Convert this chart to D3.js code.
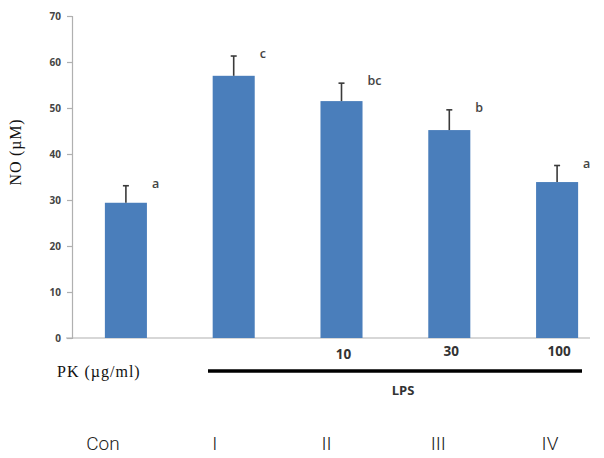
<!DOCTYPE html>
<html>
<head>
<meta charset="utf-8">
<script src="https://cdn.jsdelivr.net/npm/d3@7"></script>
<style>
  html, body { margin: 0; padding: 0; background: #fff; }
  svg { display: block; }
</style>
</head>
<body>
<svg id="chart" width="604" height="458"></svg>
<script>
// NO production per treatment group (mean ± SD, µM)
const groups = ["Con", "I", "II", "III", "IV"];
const means = [29.4, 57.0, 51.5, 45.2, 33.9];
const errors = [3.7, 4.3, 3.9, 4.4, 3.6];
const letters = ["a", "c", "bc", "b", "a"];
const doses = ["", "", "10", "30", "100"];
const yTicks = [0, 10, 20, 30, 40, 50, 60, 70];

const svg = d3.select("#chart");

const y = d3.scaleLinear().domain([0, 70]).range([338, 16]);
const x = d3.scaleBand().domain(groups).range([72, 611])
  .paddingInner(0.61).paddingOuter(0.305);
// group names sit on their own row below the treatment annotation
const xName = d3.scalePoint().domain(groups).range([103, 550]);

// y axis
const yAxis = d3.axisLeft(y).tickValues(yTicks).tickSize(5).tickPadding(6);
const ya = svg.append("g").attr("transform", "translate(72,0)").call(yAxis);
ya.select(".domain").attr("stroke", "#b0b0b0").attr("stroke-width", 1.2);
ya.selectAll(".tick line").attr("stroke", "#b0b0b0").attr("stroke-width", 1.2);
ya.selectAll(".tick text")
  .attr("font-family", "Open Sans, sans-serif")
  .attr("font-size", 10).attr("font-weight", 700).attr("fill", "#444");

// x baseline
svg.append("line")
  .attr("x1", 66).attr("x2", 590).attr("y1", y(0)).attr("y2", y(0))
  .attr("stroke", "#b0b0b0").attr("stroke-width", 1.2);

// bars
svg.append("g").selectAll("rect").data(groups).join("rect")
  .attr("x", d => x(d))
  .attr("width", x.bandwidth())
  .attr("y", (d, i) => y(means[i]))
  .attr("height", (d, i) => y(0) - y(means[i]))
  .attr("fill", "#4a7ebb");

// error bars (upper half)
const eb = svg.append("g").attr("stroke", "#3a3a3a").attr("stroke-width", 1.6);
groups.forEach((g, i) => {
  const cx = x(g) + x.bandwidth() / 2;
  eb.append("line").attr("x1", cx).attr("x2", cx)
    .attr("y1", y(means[i])).attr("y2", y(means[i] + errors[i]));
  eb.append("line").attr("x1", cx - 3).attr("x2", cx + 3)
    .attr("y1", y(means[i] + errors[i])).attr("y2", y(means[i] + errors[i]));
});

// significance letters
svg.append("g").selectAll("text").data(groups).join("text")
  .attr("x", d => x(d) + x.bandwidth() / 2 + 26)
  .attr("y", (d, i) => y(means[i] + errors[i]) + 2)
  .attr("font-family", "Open Sans, sans-serif")
  .attr("font-size", 12.5).attr("font-weight", 600).attr("fill", "#444")
  .text((d, i) => letters[i]);

// y axis title
svg.append("text")
  .attr("transform", "translate(21,152) rotate(-90)")
  .attr("text-anchor", "middle")
  .attr("font-family", "Liberation Serif, serif")
  .attr("font-size", 16).attr("letter-spacing", 0.8).attr("fill", "#111")
  .text("NO (µM)");

// dose row
svg.append("text")
  .attr("x", 57).attr("y", 377)
  .attr("font-family", "Liberation Serif, serif")
  .attr("font-size", 16).attr("letter-spacing", 1).attr("fill", "#111")
  .text("PK (µg/ml)");

svg.append("g").selectAll("text").data(groups).join("text")
  .attr("x", d => x(d) + x.bandwidth() / 2 + 2)
  .attr("y", (d, i) => i === 2 ? 359 : 356)
  .attr("text-anchor", "middle")
  .attr("font-family", "Open Sans, sans-serif")
  .attr("font-size", 13.5).attr("font-weight", 700).attr("fill", "#333")
  .text((d, i) => doses[i]);

// LPS bracket
svg.append("line")
  .attr("x1", 208).attr("x2", 582).attr("y1", 371).attr("y2", 371)
  .attr("stroke", "#000").attr("stroke-width", 3.5);
svg.append("text")
  .attr("x", 403).attr("y", 395)
  .attr("text-anchor", "middle")
  .attr("font-family", "Open Sans, sans-serif")
  .attr("font-size", 13).attr("font-weight", 700).attr("fill", "#333")
  .text("LPS");

// group names
svg.append("g").selectAll("text").data(groups).join("text")
  .attr("x", d => xName(d))
  .attr("y", 450)
  .attr("text-anchor", "middle")
  .attr("font-family", "Roboto, sans-serif")
  .attr("font-size", 19).attr("font-weight", 300).attr("fill", "#222")
  .text(d => d);
</script>
</body>
</html>
